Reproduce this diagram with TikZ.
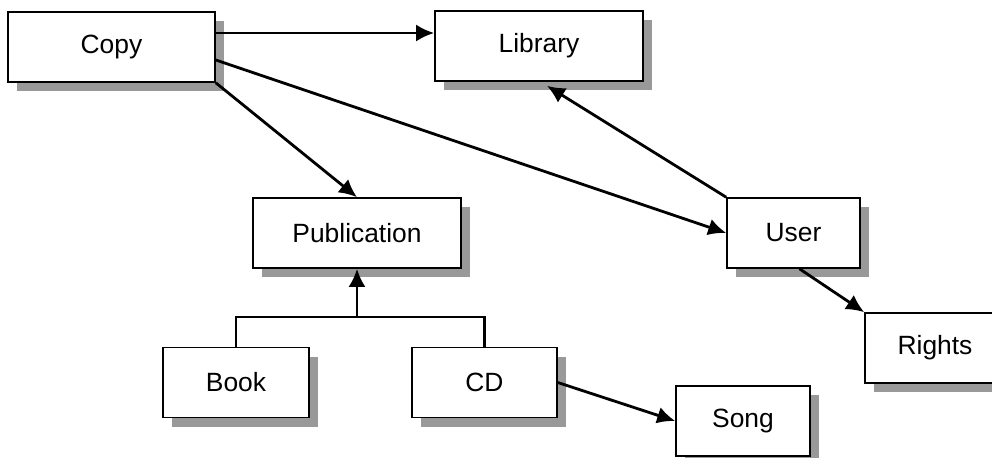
\documentclass[tikz,border=0pt]{standalone}
\usepackage{fontspec}
\setmainfont{Liberation Sans}
\usetikzlibrary{arrows.meta,shadows}

\tikzset{
    entity/.style={draw, line width=0.8pt, fill=white, inner sep=0pt,
        minimum height=35pt, font=\fontsize{13.2}{15}\selectfont,
        drop shadow={shadow xshift=4.5pt, shadow yshift=-4.5pt,
            fill=black!40, opacity=1}},
    link/.style={->, black, line width=1.4pt}
}

\begin{document}
\begin{tikzpicture}[x=0.5pt, y=-0.5pt, >={Latex[length=9pt,width=8.5pt]}]
    \useasboundingbox (0,0) rectangle (992,457);

    % classes
    \node[entity, minimum width=103.5pt] (copy) at (111.5,47) {Copy};
    \node[entity, minimum width=104pt] (library) at (539,46) {Library};
    \node[entity, minimum width=104pt] (publication) at (357,233) {Publication};
    \node[entity, minimum width=66.5pt] (user) at (793.5,233) {User};
    \node[entity, minimum width=70pt] (rights) at (935,348) {Rights};
    \node[entity, minimum width=73pt] (book) at (236,382.5) {Book};
    \node[entity, minimum width=72.5pt] (cd) at (484.5,382.5) {CD};
    \node[entity, minimum width=67pt] (song) at (743,421) {Song};

    % associations
    \coordinate (out) at ([yshift=7pt]copy.east);
    \draw 
        [link] (out) -- (library.west |- out);
    \draw 
        [link] (copy.south east) -- (publication.north);
    \draw 
        [link] ([yshift=-6.5pt]copy.east) -- (user.west);
    \draw 
        [link] (user.north west) -- ([xshift=4pt, yshift=-2pt]library.south);
    \draw 
        [link] ([xshift=3pt]user.south) -- (rights.north west);
    \draw 
        [link] (cd.east) -- (song.west);

    % generalisation
    \coordinate (join) at (publication.south |- 0,317);
    \draw 
        [black, line width=1.4pt] (book.north) |- (join) -- (cd.north |- join) -- (cd.north);
    \draw 
        [link] (join) -- (publication.south);
\end{tikzpicture}
\end{document}
